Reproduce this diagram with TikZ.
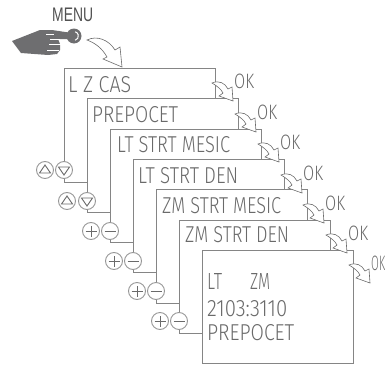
\documentclass[tikz,border=0pt]{standalone}
\usepackage{fontspec}
\usepackage{graphicx}
\setmainfont{Fira Sans Light}
\newfontfamily\menufont{Liberation Sans}
\definecolor{ln}{HTML}{858585}
\definecolor{ink}{HTML}{6A6A6A}
\definecolor{hand}{HTML}{6E6E70}
\tikzset{
  rule/.style={draw=ln,line width=1pt},
  btn/.style={circle,draw=ln!85,line width=0.9pt,fill=white,minimum size=17pt,inner sep=0pt},
  glyph/.style={draw=ink,line width=0.9pt},
  lcdtext/.style={anchor=south west,inner sep=0pt,text=ink},
  flow/.style={draw=ink,fill=white,line width=0.6pt,line join=miter},
  smallarrow/.pic={\path[flow] (-21,-18) .. controls (-14,-21) and (-8,-18) .. (-5,-12) -- (-1,-14) -- (0,0) -- (-14,-5) -- (-10,-8) .. controls (-12,-12) and (-16,-15) .. (-21,-18) -- cycle;}
}
\newcommand{\lcdt}[5]{\node[lcdtext] (#1) at (#2,#3) {\resizebox{#4pt}{16pt}{#5}};}
\newcommand{\upg}[1]{\draw[glyph] ([shift={(-5.5,3)}]#1.center) -- ([shift={(5.5,3)}]#1.center) -- ([shift={(0,-5)}]#1.center) -- cycle;}
\newcommand{\dng}[1]{\draw[glyph] ([shift={(-5.5,-3)}]#1.center) -- ([shift={(5.5,-3)}]#1.center) -- ([shift={(0,5)}]#1.center) -- cycle;}
\newcommand{\plusg}[1]{\draw[glyph] ([xshift=-5.5pt]#1.center) -- ([xshift=5.5pt]#1.center) ([yshift=-5.5pt]#1.center) -- ([yshift=5.5pt]#1.center);}
\newcommand{\minusg}[1]{\draw[glyph] ([xshift=-5.5pt]#1.center) -- ([xshift=5.5pt]#1.center);}
\begin{document}
\begin{tikzpicture}[x=1pt,y=-1pt]
\useasboundingbox (0,0) rectangle (385,364);
% hand
\fill[hand] (74,36) circle (7.5);
\fill[hand] (12,41) -- (40,30) -- (52,30) -- (72,33) -- (72,39) -- (58,39) -- (60,44) -- (60,50) -- (57,54) -- (48,55) -- (21,53) -- cycle;
\draw[white,line width=1pt] (74,36) +(75:4.4) arc (75:-75:4.4);
\draw[white,line width=0.9pt] (46,34) -- (54,34) (50,39.5) -- (60,39.5) (49,44.5) -- (61,44.5) (47,50) -- (59,50);
\node[inner sep=0pt,anchor=south west,text=black!68] (menu) at (52,22) {\resizebox{41pt}{13.5pt}{\menufont MENU}};
% big arrow
\path[flow] (87,40) .. controls (97,35) and (109,40) .. (115,50) -- (120,47) -- (122,67) -- (103,59) -- (107,57) .. controls (102,48) and (95,43) .. (87,40) -- cycle;
% corners
\coordinate (t1) at (215,68); \coordinate (e1) at (215,98);
\coordinate (t2) at (238,98); \coordinate (e2) at (238,129);
\coordinate (t3) at (261,129); \coordinate (e3) at (261,159);
\coordinate (t4) at (284,159); \coordinate (e4) at (284,189.5);
\coordinate (t5) at (307,189.5); \coordinate (e5) at (307,220);
\coordinate (t6) at (330,220); \coordinate (e6) at (330,250);
% buttons
\node[btn] (up1) at (45,170) {}; \node[btn] (dn1) at (64,170) {};
\node[btn] (up2) at (67,201) {}; \node[btn] (dn2) at (87,201) {};
\node[btn] (pl3) at (91,231) {}; \node[btn] (mi3) at (110,231) {};
\node[btn] (pl4) at (114,261) {}; \node[btn] (mi4) at (133,261) {};
\node[btn] (pl5) at (137,291) {}; \node[btn] (mi5) at (156,291) {};
\node[btn] (pl6) at (160,321) {}; \node[btn] (mi6) at (179,321) {};
\upg{up1} \dng{dn1} \upg{up2} \dng{dn2}
\plusg{pl3} \minusg{mi3} \plusg{pl4} \minusg{mi4} \plusg{pl5} \minusg{mi5} \plusg{pl6} \minusg{mi6}
% last screen
\node[rule,rectangle,inner sep=0pt,minimum width=151pt,minimum height=112.5pt,anchor=north west] (box7) at (202,250) {};
% frames
\draw[rule] (dn1.north) |- (t1) -- (e1);
\draw[rule] (dn2.north) |- (t2) -- (e2);
\draw[rule] (mi3.north) |- (t3) -- (e3);
\draw[rule] (mi4.north) |- (t4) -- (e4);
\draw[rule] (mi5.north) |- (t5) -- (e5);
\draw[rule] (mi6.north) |- (t6) -- (e6);
% links
\coordinate (j1) at (87,182); \coordinate (j2) at (110,212); \coordinate (j3) at (133,242);
\coordinate (j4) at (156,272); \coordinate (j5) at (179,303); \coordinate (j6) at (box7.west|-0,333);
\draw[rule] (dn1.south) |- (j1);
\draw[rule] (dn2.south) |- (j2);
\draw[rule] (mi3.south) |- (j3);
\draw[rule] (mi4.south) |- (j4);
\draw[rule] (mi5.south) |- (j5);
\draw[rule] (mi6.south) |- (j6);
% screen text
\lcdt{s1}{68}{93}{63}{L Z CAS}
\lcdt{s2}{92}{123}{86}{PREPOCET}
\lcdt{s3}{117}{153}{113}{LT STRT MESIC}
\lcdt{s4}{138}{183.5}{100}{LT STRT DEN}
\lcdt{s5}{162}{214}{119}{ZM STRT MESIC}
\lcdt{s6}{185}{243}{104}{ZM STRT DEN}
\lcdt{s7a}{207}{290}{15}{LT}
\lcdt{s7b}{250}{290}{20}{ZM}
\lcdt{s7c}{207}{316.5}{80}{2103:3110}
\lcdt{s7d}{207}{340.5}{87}{PREPOCET}
% OK arrows
\foreach \i/\tx/\ty/\w in {1/233/101/20,2/256/132/20,3/279/162/20,4/302/193/20,5/324/223/20,6/347/253/20,7/370/283/14}{
  \path (\tx,\ty) pic {smallarrow};
  \node[lcdtext] (ok\i) at (\tx+1,\ty-12) {\resizebox{\w pt}{14.5pt}{OK}};
}
\end{tikzpicture}
\end{document}
